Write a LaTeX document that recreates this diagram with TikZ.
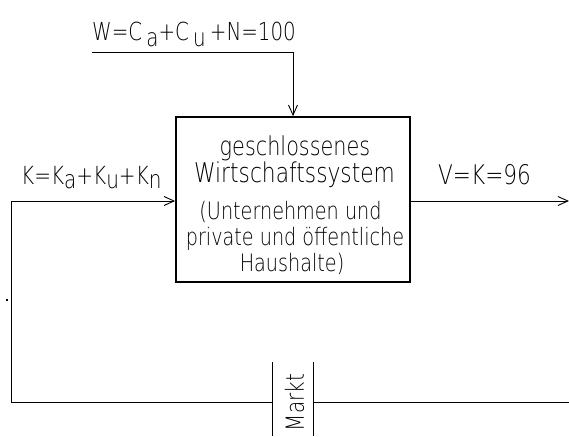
\documentclass[tikz,border=0pt]{standalone}
\usepackage{fontspec}
\setmainfont{DejaVuSans-ExtraLight.ttf}[FakeStretch=0.8]
\usetikzlibrary{arrows.meta}
\definecolor{ink}{HTML}{000000}
\newcommand{\sz}[1]{\fontsize{#1}{#1}\selectfont}
\newcommand{\lo}[2]{\raisebox{-#1pt}{#2}}
\begin{document}
\begin{tikzpicture}[x=1pt,y=-1pt,
  line/.style={draw=black,line width=0.9pt},
  arr/.style={line,-{Straight Barb[length=10pt,width=9pt,line width=0.9pt]}},
  sysbox/.style={draw=black,line width=1.8pt,minimum width=234pt,minimum height=165pt,inner sep=0pt},
  txt/.style={inner sep=0pt,text=ink,anchor=base},
  lbl/.style={inner sep=0pt,text=ink,anchor=base west}]
\useasboundingbox (0,0) rectangle (569,436);
% system box
\node[sysbox] (sys) at (293,199.5) {};
\node[txt,font=\sz{26}] (t1) at (295,155) {geschlossenes};
\node[txt,font=\sz{27.2}] (t2) at (294.5,182) {Wirtschaftssystem};
\node[txt,font=\sz{24}] (t3) at (290.5,219) {(Unternehmen und};
\node[txt,font=\sz{24}] (t4) at (295,245) {private und öffentliche};
\node[txt,font=\sz{24}] (t5) at (292,271) {Haushalte)};
% labels
\node[lbl,font=\sz{24.8}] (wl) at (92,40.7) {W=C\,\lo{6}{a}+C\,\lo{6}{u}\,+N=100};
\node[lbl,font=\sz{25}] (kl) at (21,184) {K=K\lo{4}{a}+K\lo{4}{u}+K\lo{4}{n}};
\node[lbl,font=\sz{27}] (vl) at (438,184) {V=K=96};
\node[inner sep=0pt,text=ink,font=\sz{25},rotate=90] (markt) at (294.5,402.5) {Markt};
% coordinates
\coordinate (wstart) at (92,52);
\coordinate (wbend) at (sys.north |- wstart);
\coordinate (kbend) at (11,201);
\coordinate (corner) at (11,402);
\coordinate (vend) at (569,201);
\coordinate (bend) at (569,402);
\coordinate (m1t) at (272,362);
\coordinate (m1b) at (272,436);
\coordinate (m2t) at (313,362);
\coordinate (m2b) at (313,436);
\coordinate (m1) at (272,402);
\coordinate (m2) at (313,402);
% connectors
\draw[arr] (wstart) -- (wbend) -- (sys.north);
\draw[arr] (corner) -- (kbend) -- (kbend -| sys.west);
\draw[arr] (sys.east |- vend) -- (vend);
\draw[line] (corner) -- (m1);
\draw[line] (m2) -- (bend);
\draw[line] (m1t) -- (m1b);
\draw[line] (m2t) -- (m2b);
% small dot
\fill[black] (5.5,299) rectangle (7.5,301);
\end{tikzpicture}
\end{document}
